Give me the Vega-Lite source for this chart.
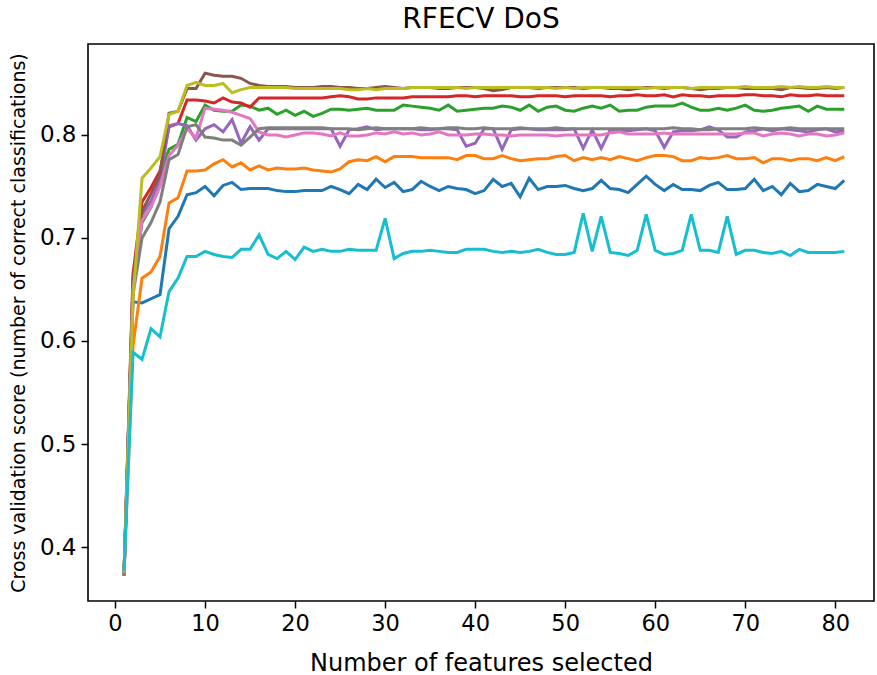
{
"$schema": "https://vega.github.io/schema/vega-lite/v6.json",
"width": 786, "height": 557,
"autosize": {"type": "none"},
"padding": {"left": 88, "top": 44, "right": 3, "bottom": 74},
"background": "white",
"config": {"font": "DejaVu Sans", "view": {"stroke": "black", "strokeWidth": 1.6}},
"title": {"text": "RFECV DoS", "fontSize": 28, "font": "DejaVu Sans", "fontWeight": "normal", "color": "black", "offset": 10},
"data": {"values": [
{"s":"a","x":1,"y":0.373},{"s":"a","x":2,"y":0.638},{"s":"a","x":3,"y":0.637},{"s":"a","x":4,"y":0.641},{"s":"a","x":5,"y":0.645},{"s":"a","x":6,"y":0.709},{"s":"a","x":7,"y":0.721},{"s":"a","x":8,"y":0.742},{"s":"a","x":9,"y":0.744},{"s":"a","x":10,"y":0.750},{"s":"a","x":11,"y":0.741},{"s":"a","x":12,"y":0.751},{"s":"a","x":13,"y":0.754},{"s":"a","x":14,"y":0.747},{"s":"a","x":15,"y":0.748},{"s":"a","x":16,"y":0.748},{"s":"a","x":17,"y":0.748},{"s":"a","x":18,"y":0.746},{"s":"a","x":19,"y":0.745},{"s":"a","x":20,"y":0.745},{"s":"a","x":21,"y":0.746},{"s":"a","x":22,"y":0.746},{"s":"a","x":23,"y":0.746},{"s":"a","x":24,"y":0.750},{"s":"a","x":25,"y":0.747},{"s":"a","x":26,"y":0.743},{"s":"a","x":27,"y":0.752},{"s":"a","x":28,"y":0.747},{"s":"a","x":29,"y":0.757},{"s":"a","x":30,"y":0.749},{"s":"a","x":31,"y":0.754},{"s":"a","x":32,"y":0.745},{"s":"a","x":33,"y":0.747},{"s":"a","x":34,"y":0.755},{"s":"a","x":35,"y":0.750},{"s":"a","x":36,"y":0.746},{"s":"a","x":37,"y":0.750},{"s":"a","x":38,"y":0.748},{"s":"a","x":39,"y":0.747},{"s":"a","x":40,"y":0.743},{"s":"a","x":41,"y":0.746},{"s":"a","x":42,"y":0.757},{"s":"a","x":43,"y":0.750},{"s":"a","x":44,"y":0.753},{"s":"a","x":45,"y":0.740},{"s":"a","x":46,"y":0.758},{"s":"a","x":47,"y":0.747},{"s":"a","x":48,"y":0.750},{"s":"a","x":49,"y":0.750},{"s":"a","x":50,"y":0.751},{"s":"a","x":51,"y":0.748},{"s":"a","x":52,"y":0.746},{"s":"a","x":53,"y":0.748},{"s":"a","x":54,"y":0.756},{"s":"a","x":55,"y":0.748},{"s":"a","x":56,"y":0.747},{"s":"a","x":57,"y":0.744},{"s":"a","x":58,"y":0.752},{"s":"a","x":59,"y":0.760},{"s":"a","x":60,"y":0.752},{"s":"a","x":61,"y":0.746},{"s":"a","x":62,"y":0.752},{"s":"a","x":63,"y":0.747},{"s":"a","x":64,"y":0.747},{"s":"a","x":65,"y":0.746},{"s":"a","x":66,"y":0.751},{"s":"a","x":67,"y":0.754},{"s":"a","x":68,"y":0.747},{"s":"a","x":69,"y":0.747},{"s":"a","x":70,"y":0.748},{"s":"a","x":71,"y":0.757},{"s":"a","x":72,"y":0.746},{"s":"a","x":73,"y":0.750},{"s":"a","x":74,"y":0.742},{"s":"a","x":75,"y":0.753},{"s":"a","x":76,"y":0.745},{"s":"a","x":77,"y":0.746},{"s":"a","x":78,"y":0.752},{"s":"a","x":79,"y":0.750},{"s":"a","x":80,"y":0.748},{"s":"a","x":81,"y":0.756},
{"s":"b","x":1,"y":0.373},{"s":"b","x":2,"y":0.595},{"s":"b","x":3,"y":0.661},{"s":"b","x":4,"y":0.667},{"s":"b","x":5,"y":0.682},{"s":"b","x":6,"y":0.734},{"s":"b","x":7,"y":0.739},{"s":"b","x":8,"y":0.765},{"s":"b","x":9,"y":0.765},{"s":"b","x":10,"y":0.766},{"s":"b","x":11,"y":0.772},{"s":"b","x":12,"y":0.776},{"s":"b","x":13,"y":0.769},{"s":"b","x":14,"y":0.773},{"s":"b","x":15,"y":0.766},{"s":"b","x":16,"y":0.770},{"s":"b","x":17,"y":0.766},{"s":"b","x":18,"y":0.768},{"s":"b","x":19,"y":0.767},{"s":"b","x":20,"y":0.767},{"s":"b","x":21,"y":0.768},{"s":"b","x":22,"y":0.766},{"s":"b","x":23,"y":0.765},{"s":"b","x":24,"y":0.764},{"s":"b","x":25,"y":0.767},{"s":"b","x":26,"y":0.774},{"s":"b","x":27,"y":0.776},{"s":"b","x":28,"y":0.775},{"s":"b","x":29,"y":0.779},{"s":"b","x":30,"y":0.774},{"s":"b","x":31,"y":0.779},{"s":"b","x":32,"y":0.779},{"s":"b","x":33,"y":0.779},{"s":"b","x":34,"y":0.778},{"s":"b","x":35,"y":0.778},{"s":"b","x":36,"y":0.778},{"s":"b","x":37,"y":0.778},{"s":"b","x":38,"y":0.776},{"s":"b","x":39,"y":0.780},{"s":"b","x":40,"y":0.780},{"s":"b","x":41,"y":0.777},{"s":"b","x":42,"y":0.777},{"s":"b","x":43,"y":0.780},{"s":"b","x":44,"y":0.777},{"s":"b","x":45,"y":0.775},{"s":"b","x":46,"y":0.776},{"s":"b","x":47,"y":0.777},{"s":"b","x":48,"y":0.777},{"s":"b","x":49,"y":0.779},{"s":"b","x":50,"y":0.780},{"s":"b","x":51,"y":0.775},{"s":"b","x":52,"y":0.778},{"s":"b","x":53,"y":0.776},{"s":"b","x":54,"y":0.778},{"s":"b","x":55,"y":0.776},{"s":"b","x":56,"y":0.779},{"s":"b","x":57,"y":0.777},{"s":"b","x":58,"y":0.775},{"s":"b","x":59,"y":0.778},{"s":"b","x":60,"y":0.780},{"s":"b","x":61,"y":0.780},{"s":"b","x":62,"y":0.779},{"s":"b","x":63,"y":0.775},{"s":"b","x":64,"y":0.775},{"s":"b","x":65,"y":0.778},{"s":"b","x":66,"y":0.777},{"s":"b","x":67,"y":0.778},{"s":"b","x":68,"y":0.780},{"s":"b","x":69,"y":0.777},{"s":"b","x":70,"y":0.777},{"s":"b","x":71,"y":0.778},{"s":"b","x":72,"y":0.773},{"s":"b","x":73,"y":0.777},{"s":"b","x":74,"y":0.777},{"s":"b","x":75,"y":0.775},{"s":"b","x":76,"y":0.777},{"s":"b","x":77,"y":0.777},{"s":"b","x":78,"y":0.775},{"s":"b","x":79,"y":0.778},{"s":"b","x":80,"y":0.775},{"s":"b","x":81,"y":0.779},
{"s":"c","x":1,"y":0.375},{"s":"c","x":2,"y":0.655},{"s":"c","x":3,"y":0.715},{"s":"c","x":4,"y":0.730},{"s":"c","x":5,"y":0.760},{"s":"c","x":6,"y":0.786},{"s":"c","x":7,"y":0.791},{"s":"c","x":8,"y":0.817},{"s":"c","x":9,"y":0.813},{"s":"c","x":10,"y":0.829},{"s":"c","x":11,"y":0.824},{"s":"c","x":12,"y":0.823},{"s":"c","x":13,"y":0.823},{"s":"c","x":14,"y":0.829},{"s":"c","x":15,"y":0.828},{"s":"c","x":16,"y":0.824},{"s":"c","x":17,"y":0.826},{"s":"c","x":18,"y":0.820},{"s":"c","x":19,"y":0.824},{"s":"c","x":20,"y":0.819},{"s":"c","x":21,"y":0.823},{"s":"c","x":22,"y":0.818},{"s":"c","x":23,"y":0.821},{"s":"c","x":24,"y":0.825},{"s":"c","x":25,"y":0.825},{"s":"c","x":26,"y":0.824},{"s":"c","x":27,"y":0.825},{"s":"c","x":28,"y":0.826},{"s":"c","x":29,"y":0.824},{"s":"c","x":30,"y":0.824},{"s":"c","x":31,"y":0.824},{"s":"c","x":32,"y":0.829},{"s":"c","x":33,"y":0.828},{"s":"c","x":34,"y":0.827},{"s":"c","x":35,"y":0.826},{"s":"c","x":36,"y":0.824},{"s":"c","x":37,"y":0.829},{"s":"c","x":38,"y":0.823},{"s":"c","x":39,"y":0.824},{"s":"c","x":40,"y":0.825},{"s":"c","x":41,"y":0.826},{"s":"c","x":42,"y":0.826},{"s":"c","x":43,"y":0.828},{"s":"c","x":44,"y":0.827},{"s":"c","x":45,"y":0.824},{"s":"c","x":46,"y":0.829},{"s":"c","x":47,"y":0.823},{"s":"c","x":48,"y":0.827},{"s":"c","x":49,"y":0.828},{"s":"c","x":50,"y":0.824},{"s":"c","x":51,"y":0.823},{"s":"c","x":52,"y":0.826},{"s":"c","x":53,"y":0.828},{"s":"c","x":54,"y":0.826},{"s":"c","x":55,"y":0.829},{"s":"c","x":56,"y":0.823},{"s":"c","x":57,"y":0.824},{"s":"c","x":58,"y":0.824},{"s":"c","x":59,"y":0.827},{"s":"c","x":60,"y":0.828},{"s":"c","x":61,"y":0.828},{"s":"c","x":62,"y":0.828},{"s":"c","x":63,"y":0.831},{"s":"c","x":64,"y":0.827},{"s":"c","x":65,"y":0.824},{"s":"c","x":66,"y":0.824},{"s":"c","x":67,"y":0.826},{"s":"c","x":68,"y":0.824},{"s":"c","x":69,"y":0.826},{"s":"c","x":70,"y":0.829},{"s":"c","x":71,"y":0.824},{"s":"c","x":72,"y":0.823},{"s":"c","x":73,"y":0.824},{"s":"c","x":74,"y":0.826},{"s":"c","x":75,"y":0.827},{"s":"c","x":76,"y":0.828},{"s":"c","x":77,"y":0.823},{"s":"c","x":78,"y":0.828},{"s":"c","x":79,"y":0.825},{"s":"c","x":80,"y":0.825},{"s":"c","x":81,"y":0.825},
{"s":"d","x":1,"y":0.374},{"s":"d","x":2,"y":0.665},{"s":"d","x":3,"y":0.735},{"s":"d","x":4,"y":0.749},{"s":"d","x":5,"y":0.765},{"s":"d","x":6,"y":0.808},{"s":"d","x":7,"y":0.811},{"s":"d","x":8,"y":0.834},{"s":"d","x":9,"y":0.834},{"s":"d","x":10,"y":0.833},{"s":"d","x":11,"y":0.831},{"s":"d","x":12,"y":0.836},{"s":"d","x":13,"y":0.832},{"s":"d","x":14,"y":0.831},{"s":"d","x":15,"y":0.827},{"s":"d","x":16,"y":0.836},{"s":"d","x":17,"y":0.836},{"s":"d","x":18,"y":0.836},{"s":"d","x":19,"y":0.836},{"s":"d","x":20,"y":0.836},{"s":"d","x":21,"y":0.836},{"s":"d","x":22,"y":0.836},{"s":"d","x":23,"y":0.836},{"s":"d","x":24,"y":0.837},{"s":"d","x":25,"y":0.838},{"s":"d","x":26,"y":0.837},{"s":"d","x":27,"y":0.835},{"s":"d","x":28,"y":0.835},{"s":"d","x":29,"y":0.836},{"s":"d","x":30,"y":0.836},{"s":"d","x":31,"y":0.836},{"s":"d","x":32,"y":0.836},{"s":"d","x":33,"y":0.837},{"s":"d","x":34,"y":0.837},{"s":"d","x":35,"y":0.837},{"s":"d","x":36,"y":0.837},{"s":"d","x":37,"y":0.837},{"s":"d","x":38,"y":0.838},{"s":"d","x":39,"y":0.838},{"s":"d","x":40,"y":0.837},{"s":"d","x":41,"y":0.838},{"s":"d","x":42,"y":0.838},{"s":"d","x":43,"y":0.838},{"s":"d","x":44,"y":0.838},{"s":"d","x":45,"y":0.837},{"s":"d","x":46,"y":0.837},{"s":"d","x":47,"y":0.838},{"s":"d","x":48,"y":0.838},{"s":"d","x":49,"y":0.838},{"s":"d","x":50,"y":0.837},{"s":"d","x":51,"y":0.838},{"s":"d","x":52,"y":0.838},{"s":"d","x":53,"y":0.838},{"s":"d","x":54,"y":0.838},{"s":"d","x":55,"y":0.837},{"s":"d","x":56,"y":0.838},{"s":"d","x":57,"y":0.838},{"s":"d","x":58,"y":0.839},{"s":"d","x":59,"y":0.838},{"s":"d","x":60,"y":0.838},{"s":"d","x":61,"y":0.839},{"s":"d","x":62,"y":0.837},{"s":"d","x":63,"y":0.839},{"s":"d","x":64,"y":0.838},{"s":"d","x":65,"y":0.838},{"s":"d","x":66,"y":0.837},{"s":"d","x":67,"y":0.838},{"s":"d","x":68,"y":0.838},{"s":"d","x":69,"y":0.838},{"s":"d","x":70,"y":0.839},{"s":"d","x":71,"y":0.839},{"s":"d","x":72,"y":0.838},{"s":"d","x":73,"y":0.838},{"s":"d","x":74,"y":0.837},{"s":"d","x":75,"y":0.839},{"s":"d","x":76,"y":0.838},{"s":"d","x":77,"y":0.838},{"s":"d","x":78,"y":0.839},{"s":"d","x":79,"y":0.838},{"s":"d","x":80,"y":0.838},{"s":"d","x":81,"y":0.838},
{"s":"e","x":1,"y":0.373},{"s":"e","x":2,"y":0.650},{"s":"e","x":3,"y":0.722},{"s":"e","x":4,"y":0.736},{"s":"e","x":5,"y":0.756},{"s":"e","x":6,"y":0.809},{"s":"e","x":7,"y":0.811},{"s":"e","x":8,"y":0.809},{"s":"e","x":9,"y":0.795},{"s":"e","x":10,"y":0.806},{"s":"e","x":11,"y":0.810},{"s":"e","x":12,"y":0.803},{"s":"e","x":13,"y":0.815},{"s":"e","x":14,"y":0.792},{"s":"e","x":15,"y":0.808},{"s":"e","x":16,"y":0.795},{"s":"e","x":17,"y":0.806},{"s":"e","x":18,"y":0.806},{"s":"e","x":19,"y":0.806},{"s":"e","x":20,"y":0.806},{"s":"e","x":21,"y":0.806},{"s":"e","x":22,"y":0.806},{"s":"e","x":23,"y":0.806},{"s":"e","x":24,"y":0.806},{"s":"e","x":25,"y":0.789},{"s":"e","x":26,"y":0.805},{"s":"e","x":27,"y":0.806},{"s":"e","x":28,"y":0.808},{"s":"e","x":29,"y":0.805},{"s":"e","x":30,"y":0.806},{"s":"e","x":31,"y":0.806},{"s":"e","x":32,"y":0.806},{"s":"e","x":33,"y":0.806},{"s":"e","x":34,"y":0.805},{"s":"e","x":35,"y":0.805},{"s":"e","x":36,"y":0.806},{"s":"e","x":37,"y":0.806},{"s":"e","x":38,"y":0.805},{"s":"e","x":39,"y":0.789},{"s":"e","x":40,"y":0.792},{"s":"e","x":41,"y":0.806},{"s":"e","x":42,"y":0.806},{"s":"e","x":43,"y":0.786},{"s":"e","x":44,"y":0.805},{"s":"e","x":45,"y":0.806},{"s":"e","x":46,"y":0.806},{"s":"e","x":47,"y":0.805},{"s":"e","x":48,"y":0.805},{"s":"e","x":49,"y":0.805},{"s":"e","x":50,"y":0.805},{"s":"e","x":51,"y":0.806},{"s":"e","x":52,"y":0.787},{"s":"e","x":53,"y":0.805},{"s":"e","x":54,"y":0.787},{"s":"e","x":55,"y":0.805},{"s":"e","x":56,"y":0.804},{"s":"e","x":57,"y":0.804},{"s":"e","x":58,"y":0.805},{"s":"e","x":59,"y":0.806},{"s":"e","x":60,"y":0.804},{"s":"e","x":61,"y":0.788},{"s":"e","x":62,"y":0.803},{"s":"e","x":63,"y":0.804},{"s":"e","x":64,"y":0.804},{"s":"e","x":65,"y":0.805},{"s":"e","x":66,"y":0.808},{"s":"e","x":67,"y":0.805},{"s":"e","x":68,"y":0.798},{"s":"e","x":69,"y":0.798},{"s":"e","x":70,"y":0.803},{"s":"e","x":71,"y":0.804},{"s":"e","x":72,"y":0.806},{"s":"e","x":73,"y":0.804},{"s":"e","x":74,"y":0.806},{"s":"e","x":75,"y":0.805},{"s":"e","x":76,"y":0.804},{"s":"e","x":77,"y":0.803},{"s":"e","x":78,"y":0.805},{"s":"e","x":79,"y":0.806},{"s":"e","x":80,"y":0.803},{"s":"e","x":81,"y":0.804},
{"s":"f","x":1,"y":0.372},{"s":"f","x":2,"y":0.660},{"s":"f","x":3,"y":0.726},{"s":"f","x":4,"y":0.743},{"s":"f","x":5,"y":0.762},{"s":"f","x":6,"y":0.821},{"s":"f","x":7,"y":0.823},{"s":"f","x":8,"y":0.845},{"s":"f","x":9,"y":0.845},{"s":"f","x":10,"y":0.860},{"s":"f","x":11,"y":0.858},{"s":"f","x":12,"y":0.857},{"s":"f","x":13,"y":0.857},{"s":"f","x":14,"y":0.855},{"s":"f","x":15,"y":0.850},{"s":"f","x":16,"y":0.848},{"s":"f","x":17,"y":0.847},{"s":"f","x":18,"y":0.847},{"s":"f","x":19,"y":0.847},{"s":"f","x":20,"y":0.846},{"s":"f","x":21,"y":0.846},{"s":"f","x":22,"y":0.846},{"s":"f","x":23,"y":0.847},{"s":"f","x":24,"y":0.847},{"s":"f","x":25,"y":0.846},{"s":"f","x":26,"y":0.846},{"s":"f","x":27,"y":0.845},{"s":"f","x":28,"y":0.845},{"s":"f","x":29,"y":0.846},{"s":"f","x":30,"y":0.847},{"s":"f","x":31,"y":0.846},{"s":"f","x":32,"y":0.845},{"s":"f","x":33,"y":0.846},{"s":"f","x":34,"y":0.846},{"s":"f","x":35,"y":0.846},{"s":"f","x":36,"y":0.845},{"s":"f","x":37,"y":0.845},{"s":"f","x":38,"y":0.846},{"s":"f","x":39,"y":0.846},{"s":"f","x":40,"y":0.846},{"s":"f","x":41,"y":0.845},{"s":"f","x":42,"y":0.843},{"s":"f","x":43,"y":0.844},{"s":"f","x":44,"y":0.846},{"s":"f","x":45,"y":0.846},{"s":"f","x":46,"y":0.846},{"s":"f","x":47,"y":0.845},{"s":"f","x":48,"y":0.846},{"s":"f","x":49,"y":0.846},{"s":"f","x":50,"y":0.846},{"s":"f","x":51,"y":0.846},{"s":"f","x":52,"y":0.845},{"s":"f","x":53,"y":0.846},{"s":"f","x":54,"y":0.846},{"s":"f","x":55,"y":0.845},{"s":"f","x":56,"y":0.845},{"s":"f","x":57,"y":0.844},{"s":"f","x":58,"y":0.845},{"s":"f","x":59,"y":0.846},{"s":"f","x":60,"y":0.846},{"s":"f","x":61,"y":0.845},{"s":"f","x":62,"y":0.846},{"s":"f","x":63,"y":0.846},{"s":"f","x":64,"y":0.845},{"s":"f","x":65,"y":0.844},{"s":"f","x":66,"y":0.845},{"s":"f","x":67,"y":0.845},{"s":"f","x":68,"y":0.846},{"s":"f","x":69,"y":0.846},{"s":"f","x":70,"y":0.845},{"s":"f","x":71,"y":0.845},{"s":"f","x":72,"y":0.845},{"s":"f","x":73,"y":0.845},{"s":"f","x":74,"y":0.844},{"s":"f","x":75,"y":0.846},{"s":"f","x":76,"y":0.846},{"s":"f","x":77,"y":0.845},{"s":"f","x":78,"y":0.845},{"s":"f","x":79,"y":0.846},{"s":"f","x":80,"y":0.845},{"s":"f","x":81,"y":0.846},
{"s":"g","x":1,"y":0.373},{"s":"g","x":2,"y":0.650},{"s":"g","x":3,"y":0.717},{"s":"g","x":4,"y":0.730},{"s":"g","x":5,"y":0.750},{"s":"g","x":6,"y":0.780},{"s":"g","x":7,"y":0.790},{"s":"g","x":8,"y":0.806},{"s":"g","x":9,"y":0.797},{"s":"g","x":10,"y":0.826},{"s":"g","x":11,"y":0.825},{"s":"g","x":12,"y":0.824},{"s":"g","x":13,"y":0.822},{"s":"g","x":14,"y":0.819},{"s":"g","x":15,"y":0.816},{"s":"g","x":16,"y":0.803},{"s":"g","x":17,"y":0.800},{"s":"g","x":18,"y":0.800},{"s":"g","x":19,"y":0.798},{"s":"g","x":20,"y":0.800},{"s":"g","x":21,"y":0.802},{"s":"g","x":22,"y":0.802},{"s":"g","x":23,"y":0.801},{"s":"g","x":24,"y":0.799},{"s":"g","x":25,"y":0.802},{"s":"g","x":26,"y":0.799},{"s":"g","x":27,"y":0.799},{"s":"g","x":28,"y":0.800},{"s":"g","x":29,"y":0.802},{"s":"g","x":30,"y":0.801},{"s":"g","x":31,"y":0.803},{"s":"g","x":32,"y":0.801},{"s":"g","x":33,"y":0.802},{"s":"g","x":34,"y":0.800},{"s":"g","x":35,"y":0.801},{"s":"g","x":36,"y":0.803},{"s":"g","x":37,"y":0.800},{"s":"g","x":38,"y":0.800},{"s":"g","x":39,"y":0.800},{"s":"g","x":40,"y":0.801},{"s":"g","x":41,"y":0.801},{"s":"g","x":42,"y":0.800},{"s":"g","x":43,"y":0.800},{"s":"g","x":44,"y":0.799},{"s":"g","x":45,"y":0.800},{"s":"g","x":46,"y":0.800},{"s":"g","x":47,"y":0.800},{"s":"g","x":48,"y":0.800},{"s":"g","x":49,"y":0.799},{"s":"g","x":50,"y":0.800},{"s":"g","x":51,"y":0.800},{"s":"g","x":52,"y":0.800},{"s":"g","x":53,"y":0.800},{"s":"g","x":54,"y":0.800},{"s":"g","x":55,"y":0.802},{"s":"g","x":56,"y":0.803},{"s":"g","x":57,"y":0.801},{"s":"g","x":58,"y":0.801},{"s":"g","x":59,"y":0.801},{"s":"g","x":60,"y":0.801},{"s":"g","x":61,"y":0.802},{"s":"g","x":62,"y":0.801},{"s":"g","x":63,"y":0.801},{"s":"g","x":64,"y":0.801},{"s":"g","x":65,"y":0.801},{"s":"g","x":66,"y":0.801},{"s":"g","x":67,"y":0.801},{"s":"g","x":68,"y":0.801},{"s":"g","x":69,"y":0.801},{"s":"g","x":70,"y":0.802},{"s":"g","x":71,"y":0.802},{"s":"g","x":72,"y":0.799},{"s":"g","x":73,"y":0.801},{"s":"g","x":74,"y":0.802},{"s":"g","x":75,"y":0.801},{"s":"g","x":76,"y":0.799},{"s":"g","x":77,"y":0.801},{"s":"g","x":78,"y":0.801},{"s":"g","x":79,"y":0.799},{"s":"g","x":80,"y":0.800},{"s":"g","x":81,"y":0.802},
{"s":"h","x":1,"y":0.372},{"s":"h","x":2,"y":0.645},{"s":"h","x":3,"y":0.700},{"s":"h","x":4,"y":0.715},{"s":"h","x":5,"y":0.735},{"s":"h","x":6,"y":0.776},{"s":"h","x":7,"y":0.781},{"s":"h","x":8,"y":0.808},{"s":"h","x":9,"y":0.810},{"s":"h","x":10,"y":0.798},{"s":"h","x":11,"y":0.797},{"s":"h","x":12,"y":0.795},{"s":"h","x":13,"y":0.795},{"s":"h","x":14,"y":0.790},{"s":"h","x":15,"y":0.798},{"s":"h","x":16,"y":0.806},{"s":"h","x":17,"y":0.807},{"s":"h","x":18,"y":0.807},{"s":"h","x":19,"y":0.807},{"s":"h","x":20,"y":0.807},{"s":"h","x":21,"y":0.807},{"s":"h","x":22,"y":0.807},{"s":"h","x":23,"y":0.807},{"s":"h","x":24,"y":0.806},{"s":"h","x":25,"y":0.806},{"s":"h","x":26,"y":0.806},{"s":"h","x":27,"y":0.805},{"s":"h","x":28,"y":0.806},{"s":"h","x":29,"y":0.807},{"s":"h","x":30,"y":0.806},{"s":"h","x":31,"y":0.806},{"s":"h","x":32,"y":0.806},{"s":"h","x":33,"y":0.806},{"s":"h","x":34,"y":0.807},{"s":"h","x":35,"y":0.806},{"s":"h","x":36,"y":0.806},{"s":"h","x":37,"y":0.807},{"s":"h","x":38,"y":0.807},{"s":"h","x":39,"y":0.806},{"s":"h","x":40,"y":0.806},{"s":"h","x":41,"y":0.807},{"s":"h","x":42,"y":0.806},{"s":"h","x":43,"y":0.806},{"s":"h","x":44,"y":0.806},{"s":"h","x":45,"y":0.807},{"s":"h","x":46,"y":0.806},{"s":"h","x":47,"y":0.806},{"s":"h","x":48,"y":0.806},{"s":"h","x":49,"y":0.807},{"s":"h","x":50,"y":0.806},{"s":"h","x":51,"y":0.806},{"s":"h","x":52,"y":0.806},{"s":"h","x":53,"y":0.806},{"s":"h","x":54,"y":0.806},{"s":"h","x":55,"y":0.806},{"s":"h","x":56,"y":0.806},{"s":"h","x":57,"y":0.806},{"s":"h","x":58,"y":0.806},{"s":"h","x":59,"y":0.806},{"s":"h","x":60,"y":0.806},{"s":"h","x":61,"y":0.806},{"s":"h","x":62,"y":0.807},{"s":"h","x":63,"y":0.806},{"s":"h","x":64,"y":0.806},{"s":"h","x":65,"y":0.805},{"s":"h","x":66,"y":0.805},{"s":"h","x":67,"y":0.806},{"s":"h","x":68,"y":0.806},{"s":"h","x":69,"y":0.806},{"s":"h","x":70,"y":0.806},{"s":"h","x":71,"y":0.807},{"s":"h","x":72,"y":0.806},{"s":"h","x":73,"y":0.806},{"s":"h","x":74,"y":0.806},{"s":"h","x":75,"y":0.807},{"s":"h","x":76,"y":0.806},{"s":"h","x":77,"y":0.806},{"s":"h","x":78,"y":0.806},{"s":"h","x":79,"y":0.806},{"s":"h","x":80,"y":0.806},{"s":"h","x":81,"y":0.806},
{"s":"i","x":1,"y":0.375},{"s":"i","x":2,"y":0.640},{"s":"i","x":3,"y":0.758},{"s":"i","x":4,"y":0.768},{"s":"i","x":5,"y":0.779},{"s":"i","x":6,"y":0.820},{"s":"i","x":7,"y":0.823},{"s":"i","x":8,"y":0.848},{"s":"i","x":9,"y":0.851},{"s":"i","x":10,"y":0.848},{"s":"i","x":11,"y":0.848},{"s":"i","x":12,"y":0.850},{"s":"i","x":13,"y":0.841},{"s":"i","x":14,"y":0.844},{"s":"i","x":15,"y":0.846},{"s":"i","x":16,"y":0.846},{"s":"i","x":17,"y":0.846},{"s":"i","x":18,"y":0.846},{"s":"i","x":19,"y":0.846},{"s":"i","x":20,"y":0.845},{"s":"i","x":21,"y":0.845},{"s":"i","x":22,"y":0.845},{"s":"i","x":23,"y":0.845},{"s":"i","x":24,"y":0.845},{"s":"i","x":25,"y":0.845},{"s":"i","x":26,"y":0.844},{"s":"i","x":27,"y":0.844},{"s":"i","x":28,"y":0.845},{"s":"i","x":29,"y":0.844},{"s":"i","x":30,"y":0.845},{"s":"i","x":31,"y":0.845},{"s":"i","x":32,"y":0.845},{"s":"i","x":33,"y":0.846},{"s":"i","x":34,"y":0.846},{"s":"i","x":35,"y":0.846},{"s":"i","x":36,"y":0.846},{"s":"i","x":37,"y":0.846},{"s":"i","x":38,"y":0.846},{"s":"i","x":39,"y":0.845},{"s":"i","x":40,"y":0.846},{"s":"i","x":41,"y":0.846},{"s":"i","x":42,"y":0.846},{"s":"i","x":43,"y":0.846},{"s":"i","x":44,"y":0.846},{"s":"i","x":45,"y":0.846},{"s":"i","x":46,"y":0.846},{"s":"i","x":47,"y":0.846},{"s":"i","x":48,"y":0.846},{"s":"i","x":49,"y":0.845},{"s":"i","x":50,"y":0.846},{"s":"i","x":51,"y":0.845},{"s":"i","x":52,"y":0.846},{"s":"i","x":53,"y":0.846},{"s":"i","x":54,"y":0.846},{"s":"i","x":55,"y":0.846},{"s":"i","x":56,"y":0.846},{"s":"i","x":57,"y":0.846},{"s":"i","x":58,"y":0.846},{"s":"i","x":59,"y":0.845},{"s":"i","x":60,"y":0.846},{"s":"i","x":61,"y":0.846},{"s":"i","x":62,"y":0.846},{"s":"i","x":63,"y":0.846},{"s":"i","x":64,"y":0.845},{"s":"i","x":65,"y":0.846},{"s":"i","x":66,"y":0.846},{"s":"i","x":67,"y":0.846},{"s":"i","x":68,"y":0.846},{"s":"i","x":69,"y":0.846},{"s":"i","x":70,"y":0.847},{"s":"i","x":71,"y":0.846},{"s":"i","x":72,"y":0.846},{"s":"i","x":73,"y":0.846},{"s":"i","x":74,"y":0.847},{"s":"i","x":75,"y":0.846},{"s":"i","x":76,"y":0.847},{"s":"i","x":77,"y":0.846},{"s":"i","x":78,"y":0.846},{"s":"i","x":79,"y":0.847},{"s":"i","x":80,"y":0.846},{"s":"i","x":81,"y":0.846},
{"s":"j","x":1,"y":0.377},{"s":"j","x":2,"y":0.589},{"s":"j","x":3,"y":0.582},{"s":"j","x":4,"y":0.612},{"s":"j","x":5,"y":0.604},{"s":"j","x":6,"y":0.648},{"s":"j","x":7,"y":0.661},{"s":"j","x":8,"y":0.682},{"s":"j","x":9,"y":0.682},{"s":"j","x":10,"y":0.687},{"s":"j","x":11,"y":0.684},{"s":"j","x":12,"y":0.682},{"s":"j","x":13,"y":0.681},{"s":"j","x":14,"y":0.689},{"s":"j","x":15,"y":0.689},{"s":"j","x":16,"y":0.703},{"s":"j","x":17,"y":0.684},{"s":"j","x":18,"y":0.680},{"s":"j","x":19,"y":0.687},{"s":"j","x":20,"y":0.679},{"s":"j","x":21,"y":0.691},{"s":"j","x":22,"y":0.687},{"s":"j","x":23,"y":0.689},{"s":"j","x":24,"y":0.687},{"s":"j","x":25,"y":0.687},{"s":"j","x":26,"y":0.689},{"s":"j","x":27,"y":0.688},{"s":"j","x":28,"y":0.688},{"s":"j","x":29,"y":0.688},{"s":"j","x":30,"y":0.719},{"s":"j","x":31,"y":0.680},{"s":"j","x":32,"y":0.685},{"s":"j","x":33,"y":0.687},{"s":"j","x":34,"y":0.687},{"s":"j","x":35,"y":0.688},{"s":"j","x":36,"y":0.687},{"s":"j","x":37,"y":0.686},{"s":"j","x":38,"y":0.686},{"s":"j","x":39,"y":0.689},{"s":"j","x":40,"y":0.689},{"s":"j","x":41,"y":0.689},{"s":"j","x":42,"y":0.687},{"s":"j","x":43,"y":0.686},{"s":"j","x":44,"y":0.687},{"s":"j","x":45,"y":0.686},{"s":"j","x":46,"y":0.687},{"s":"j","x":47,"y":0.689},{"s":"j","x":48,"y":0.686},{"s":"j","x":49,"y":0.684},{"s":"j","x":50,"y":0.684},{"s":"j","x":51,"y":0.686},{"s":"j","x":52,"y":0.724},{"s":"j","x":53,"y":0.687},{"s":"j","x":54,"y":0.721},{"s":"j","x":55,"y":0.686},{"s":"j","x":56,"y":0.685},{"s":"j","x":57,"y":0.683},{"s":"j","x":58,"y":0.688},{"s":"j","x":59,"y":0.723},{"s":"j","x":60,"y":0.688},{"s":"j","x":61,"y":0.684},{"s":"j","x":62,"y":0.685},{"s":"j","x":63,"y":0.688},{"s":"j","x":64,"y":0.723},{"s":"j","x":65,"y":0.688},{"s":"j","x":66,"y":0.688},{"s":"j","x":67,"y":0.686},{"s":"j","x":68,"y":0.721},{"s":"j","x":69,"y":0.684},{"s":"j","x":70,"y":0.688},{"s":"j","x":71,"y":0.688},{"s":"j","x":72,"y":0.686},{"s":"j","x":73,"y":0.685},{"s":"j","x":74,"y":0.687},{"s":"j","x":75,"y":0.683},{"s":"j","x":76,"y":0.689},{"s":"j","x":77,"y":0.686},{"s":"j","x":78,"y":0.686},{"s":"j","x":79,"y":0.686},{"s":"j","x":80,"y":0.686},{"s":"j","x":81,"y":0.687}
]},
"mark": {"type": "line", "strokeWidth": 3},
"encoding": {
"x": {"field": "x", "type": "quantitative", "scale": {"domain": [-3, 84.3], "nice": false, "zero": false},
 "axis": {"values": [0,10,20,30,40,50,60,70,80], "title": "Number of features selected", "grid": false, "domain": false, "tickColor": "black", "tickSize": 7, "tickWidth": 1.5, "labelFontSize": 22.5, "labelColor": "black", "labelPadding": 4, "labelFont": "DejaVu Sans", "titleFont": "DejaVu Sans", "titleFontSize": 24, "titleFontWeight": "normal", "titleColor": "black", "titleY": 69, "titleBaseline": "alphabetic"}},
"y": {"field": "y", "type": "quantitative", "scale": {"domain": [0.3476, 0.8883], "nice": false, "zero": false},
 "axis": {"values": [0.4,0.5,0.6,0.7,0.8], "format": ".1f", "title": "Cross validation score (number of correct classifications)", "grid": false, "domain": false, "tickColor": "black", "tickSize": 7, "tickWidth": 1.5, "labelFontSize": 23, "labelColor": "black", "labelPadding": 5, "labelFont": "DejaVu Sans", "titleFont": "DejaVu Sans", "titleFontSize": 19, "titleFontWeight": "normal", "titleColor": "black", "titleX": -70, "titleBaseline": "middle"}},
"color": {"field": "s", "type": "nominal", "scale": {"domain": ["a","b","c","d","e","f","g","h","i","j"], "range": ["#1f77b4","#ff7f0e","#2ca02c","#d62728","#9467bd","#8c564b","#e377c2","#7f7f7f","#bcbd22","#17becf"]}, "legend": null}
}
}
